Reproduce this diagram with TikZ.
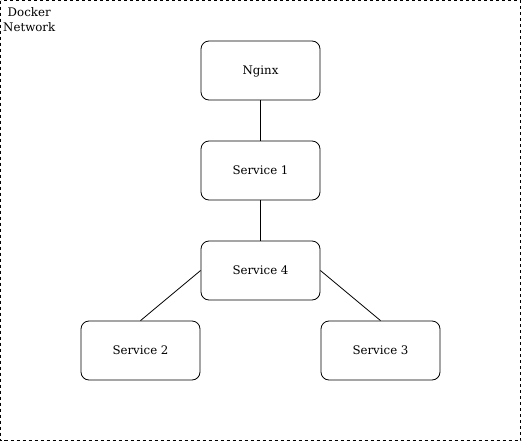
\documentclass[tikz,border=0pt]{standalone}
\usepackage{fontspec}
\setmainfont{DejaVu Serif}
\begin{document}
\begin{tikzpicture}[x=1pt,y=-1pt,
  box/.style={draw,rounded corners=8pt,minimum width=119pt,minimum height=59pt,inner sep=0pt,font=\fontsize{11.8pt}{14pt}\selectfont,line width=0.8pt,text depth=-1.5pt},
  link/.style={draw,line width=0.8pt}]
\useasboundingbox (0,0) rectangle (522,442);
\draw[dashed,line width=0.8pt,dash pattern=on 3pt off 3pt] (0.5,0.5) rectangle (520.5,440.5);
\node[anchor=north west,align=center,inner sep=0pt,font=\fontsize{11.8pt}{15pt}\selectfont] (lbl) at (3,7) {Docker\\Network};
\node[box] (nginx) at (260.5,70.5) {Nginx};
\node[box] (s1) at (260.5,170.5) {Service 1};
\node[box] (s4) at (260.5,270.5) {Service 4};
\node[box] (s2) at (140.5,350.5) {Service 2};
\node[box] (s3) at (380.5,350.5) {Service 3};
\draw[link] (nginx) -- (s1);
\draw[link] (s1) -- (s4);
\draw[link] (s4.west) -- (s2.north);
\draw[link] (s4.east) -- (s3.north);
\end{tikzpicture}
\end{document}
